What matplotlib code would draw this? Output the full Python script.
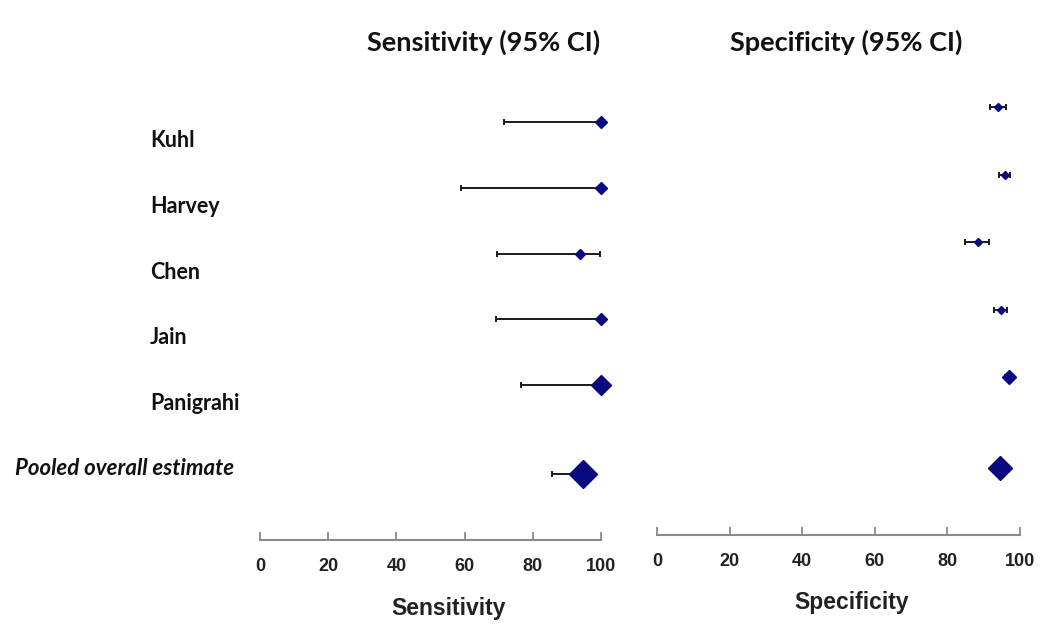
import numpy as np
import matplotlib.pyplot as plt
from matplotlib.transforms import blended_transform_factory

# study data (values in %)
studies = ["Kuhl", "Harvey", "Chen", "Jain", "Panigrahi"]
pooled_label = "Pooled overall estimate"

sens = [100, 100, 93.8, 100, 100, 94.8]
sens_lo = [71.5, 59.0, 69.6, 69.1, 76.4, 85.5]
sens_hi = [100, 100, 99.7, 100, 100, 98.0]

spec = [94.0, 96.0, 88.3, 94.9, 97.0, 94.5]
spec_lo = [91.8, 94.1, 84.8, 92.8, 96.0, 93.0]
spec_hi = [96.2, 97.3, 91.4, 96.3, 98.0, 96.0]

ticks = [0, 20, 40, 60, 80, 100]

# row positions: studies one per row, pooled row set a bit lower
rows = np.array([0, 1, 2, 3, 4, 5.35])
sens_ms = [6.5, 6.5, 5, 6.5, 10, 14]
spec_ms = [4.5, 4.5, 4, 4.5, 7, 12]

navy = "#0a0a80"
tick_font = "Liberation Sans"
label_font = "Lato"

W, H = 1049, 630
fig = plt.figure(figsize=(W / 100, H / 100), dpi=100)

ax1 = fig.add_axes([260 / W, 90 / H, 341 / W, 483.8 / H])
ax2 = fig.add_axes([657 / W, 95 / H, 363 / W, 495.5 / H])


def forest(ax, est, lo, hi, sizes, ylim):
    for i in range(len(est)):
        ax.errorbar(est[i], rows[i],
                    xerr=[[est[i] - lo[i]], [hi[i] - est[i]]],
                    fmt='none', ecolor='#1a1a1a', elinewidth=1.4,
                    capsize=2.5, capthick=1.4, clip_on=False)
        ax.plot(est[i], rows[i], marker='D', color=navy, markersize=sizes[i],
                markeredgecolor=navy, linestyle='none', clip_on=False, zorder=5)
    ax.set_xlim(0, 100)
    ax.set_ylim(*ylim)
    for s in ['top', 'right', 'left']:
        ax.spines[s].set_visible(False)
    ax.spines['bottom'].set_color('#8a8a8a')
    ax.spines['bottom'].set_linewidth(1.5)
    ax.set_yticks([])
    ax.set_xticks(ticks)
    ax.tick_params(axis='x', direction='in', length=6, width=1.3,
                   color='#8a8a8a', pad=13)
    for lab in ax.get_xticklabels():
        lab.set_fontfamily(tick_font)
        lab.set_fontweight('bold')
        lab.set_fontsize(13)
        lab.set_color('#222222')


forest(ax1, sens, sens_lo, sens_hi, sens_ms, (6.35, -1))
forest(ax2, spec, spec_lo, spec_hi, spec_ms, (6.34, -1))

fig.text(449 / W, 1 - 608 / H, "Sensitivity", ha='center', va='center',
         fontfamily=tick_font, fontweight='bold', fontsize=16.5, color='#222222')
fig.text(852 / W, 1 - 603 / H, "Specificity", ha='center', va='center',
         fontfamily=tick_font, fontweight='bold', fontsize=16.5, color='#222222')

fig.text(484 / W, 1 - 42 / H, "Sensitivity (95% CI)", ha='center', va='center',
         fontfamily=label_font, fontweight='bold', fontsize=19.5, color='#111111')
fig.text(846 / W, 1 - 42 / H, "Specificity (95% CI)", ha='center', va='center',
         fontfamily=label_font, fontweight='bold', fontsize=19.5, color='#111111')

# study labels, slightly below their rows
trans = blended_transform_factory(fig.transFigure, ax1.transData)
for i, name in enumerate(studies):
    fig.text(150 / W, rows[i] + 0.28, name, transform=trans, ha='left', va='center',
             fontfamily=label_font, fontweight='bold', fontsize=15.5, color='#111111')
fig.text(15 / W, rows[-1] - 0.09, pooled_label, transform=trans, ha='left', va='center',
         fontfamily=label_font, fontweight='bold', fontstyle='italic', fontsize=16,
         color='#111111')

fig.savefig("out.png", dpi=100)
